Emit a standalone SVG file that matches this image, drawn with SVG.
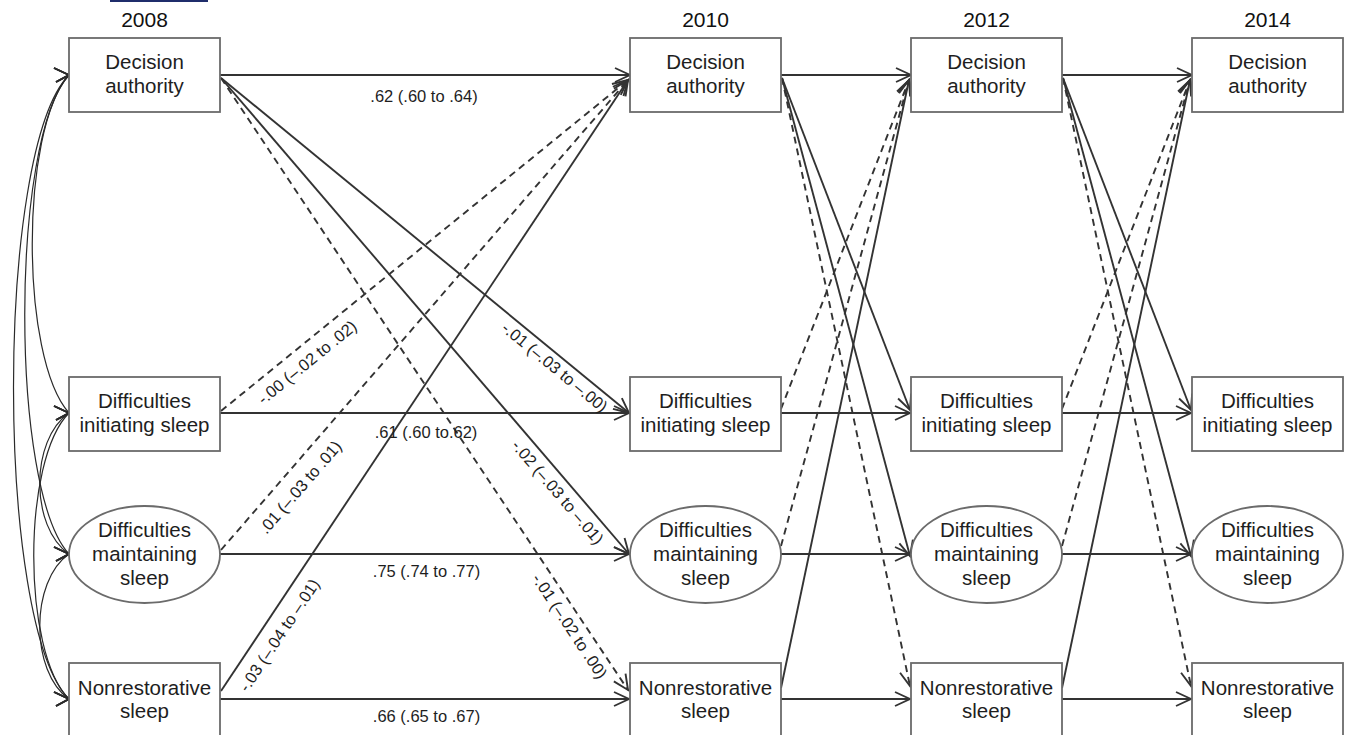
<svg xmlns="http://www.w3.org/2000/svg" width="1346" height="735" viewBox="0 0 1346 735">
<style>
.box{fill:#fff;stroke:#6b6b6b;stroke-width:1.8}
.nt{font-family:"Liberation Sans",Arial,Helvetica,sans-serif;font-size:20.5px;fill:#1e1e1e;text-anchor:middle}
.yr{font-family:"Liberation Sans",Arial,Helvetica,sans-serif;font-size:21px;fill:#111;text-anchor:middle}
.c{fill:none;stroke:#333;stroke-width:1.9;marker-end:url(#ah)}
.d{stroke-dasharray:7 5}
.arc{fill:none;stroke:#2a2a2a;stroke-width:1.2;marker-start:url(#ahR);marker-end:url(#ahR)}
.lb{font-family:"Liberation Sans",Arial,Helvetica,sans-serif;font-size:16.5px;fill:#1e1e1e;text-anchor:middle}
</style>
<defs>
<marker id="ah" markerUnits="userSpaceOnUse" markerWidth="20" markerHeight="20" viewBox="-17 -10 20 20" refX="0" refY="0" orient="auto" overflow="visible"><path d="M-15,-7 L0,0 L-15,7" fill="none" stroke="#333" stroke-width="1.9"/></marker>
<marker id="ahR" markerUnits="userSpaceOnUse" markerWidth="20" markerHeight="20" viewBox="-17 -10 20 20" refX="0" refY="0" orient="0" overflow="visible"><path d="M-15,-7 L0,0 L-13,7" fill="none" stroke="#2a2a2a" stroke-width="1.7"/></marker>
</defs>
<rect x="0" y="0" width="1346" height="735" fill="#fff"/>
<rect x="110" y="0" width="98" height="2" fill="#1f2d6b"/>

<g id="years">
<text class="yr" x="144.5" y="27">2008</text>
<text class="yr" x="705.5" y="27">2010</text>
<text class="yr" x="986.5" y="27">2012</text>
<text class="yr" x="1267.5" y="27">2014</text>
</g>

<g id="connectors">
<path class="arc" d="M69,75 C-5,150 -5,625 69,699"/>
<path class="arc" d="M69,75 C10,140 10,490 69,554"/>
<path class="arc" d="M69,75 C20,130 20,358 69,413"/>
<path class="arc" d="M69,413 C30,440 30,527 69,554"/>
<path class="arc" d="M69,413 C22,460 22,652 69,699"/>
<path class="arc" d="M69,554 C30,581 30,672 69,699"/>

<path class="c" d="M220,75 H630"/>
<path class="c" d="M221,78 L629,413"/>
<path class="c" d="M221,78 L629,554"/>
<path class="c d" d="M221,78 L628,690"/>
<path class="c d" d="M221,411 L628,80"/>
<path class="c" d="M220,413 H629"/>
<path class="c d" d="M221,550 L628,80"/>
<path class="c" d="M220,554 H629"/>
<path class="c" d="M221,691 L628,80"/>
<path class="c" d="M220,699 H629"/>

<path class="c" d="M781,75 H911"/>
<path class="c" d="M782,78 L910,410"/>
<path class="c" d="M782,78 L910,556"/>
<path class="c d" d="M782,78 L910,686"/>
<path class="c d" d="M781,409 L909,80"/>
<path class="c" d="M781,413 H910"/>
<path class="c d" d="M781,546 L909,80"/>
<path class="c" d="M781,554 H910"/>
<path class="c" d="M781,688 L909,80"/>
<path class="c" d="M781,699 H910"/>

<path class="c" d="M1062,75 H1192"/>
<path class="c" d="M1063,78 L1191,410"/>
<path class="c" d="M1063,78 L1191,556"/>
<path class="c d" d="M1063,78 L1191,686"/>
<path class="c d" d="M1062,409 L1190,80"/>
<path class="c" d="M1062,413 H1191"/>
<path class="c d" d="M1062,546 L1190,80"/>
<path class="c" d="M1062,554 H1191"/>
<path class="c" d="M1062,688 L1190,80"/>
<path class="c" d="M1062,699 H1191"/>

<text class="lb" x="424" y="102">.62 (.60 to .64)</text>
<text class="lb" x="426" y="438">.61 (.60 to.62)</text>
<text class="lb" x="426.5" y="577">.75 (.74 to .77)</text>
<text class="lb" x="426.5" y="722">.66 (.65 to .67)</text>
<text class="lb" y="6" transform="translate(555,367) rotate(39.4)">-.01 (–.03 to –.00)</text>
<text class="lb" y="6" transform="translate(558,492) rotate(49.4)">-.02 (–.03 to –.01)</text>
<text class="lb" y="6" transform="translate(570,626) rotate(56.5)">-.01 (–.02 to .00)</text>
<text class="lb" y="6" transform="translate(307,362) rotate(-39.1)">-.00 (–.02 to .02)</text>
<text class="lb" y="6" transform="translate(300,487) rotate(-49.1)">.01 (–.03 to .01)</text>
<text class="lb" y="6" transform="translate(279,635) rotate(-56.3)">-.03 (–.04 to –.01)</text>
</g>

<g id="da2008"><rect class="box" x="69" y="38" width="151" height="74"/><text class="nt" x="144.5" y="69">Decision</text><text class="nt" x="144.5" y="93">authority</text></g>
<g id="dis2008"><rect class="box" x="69" y="377" width="151" height="74"/><text class="nt" x="144.5" y="408">Difficulties</text><text class="nt" x="144.5" y="432">initiating sleep</text></g>
<g id="dms2008"><ellipse class="box" cx="144.5" cy="554.5" rx="75.5" ry="48.5"/><text class="nt" x="144.5" y="537">Difficulties</text><text class="nt" x="144.5" y="561">maintaining</text><text class="nt" x="144.5" y="585">sleep</text></g>
<g id="nrs2008"><rect class="box" x="69" y="663" width="151" height="74"/><text class="nt" x="144.5" y="695">Nonrestorative</text><text class="nt" x="144.5" y="718">sleep</text></g>

<g id="da2010"><rect class="box" x="630" y="38" width="151" height="74"/><text class="nt" x="705.5" y="69">Decision</text><text class="nt" x="705.5" y="93">authority</text></g>
<g id="dis2010"><rect class="box" x="630" y="377" width="151" height="74"/><text class="nt" x="705.5" y="408">Difficulties</text><text class="nt" x="705.5" y="432">initiating sleep</text></g>
<g id="dms2010"><ellipse class="box" cx="705.5" cy="554.5" rx="75.5" ry="48.5"/><text class="nt" x="705.5" y="537">Difficulties</text><text class="nt" x="705.5" y="561">maintaining</text><text class="nt" x="705.5" y="585">sleep</text></g>
<g id="nrs2010"><rect class="box" x="630" y="663" width="151" height="74"/><text class="nt" x="705.5" y="695">Nonrestorative</text><text class="nt" x="705.5" y="718">sleep</text></g>

<g id="da2012"><rect class="box" x="911" y="38" width="151" height="74"/><text class="nt" x="986.5" y="69">Decision</text><text class="nt" x="986.5" y="93">authority</text></g>
<g id="dis2012"><rect class="box" x="911" y="377" width="151" height="74"/><text class="nt" x="986.5" y="408">Difficulties</text><text class="nt" x="986.5" y="432">initiating sleep</text></g>
<g id="dms2012"><ellipse class="box" cx="986.5" cy="554.5" rx="75.5" ry="48.5"/><text class="nt" x="986.5" y="537">Difficulties</text><text class="nt" x="986.5" y="561">maintaining</text><text class="nt" x="986.5" y="585">sleep</text></g>
<g id="nrs2012"><rect class="box" x="911" y="663" width="151" height="74"/><text class="nt" x="986.5" y="695">Nonrestorative</text><text class="nt" x="986.5" y="718">sleep</text></g>

<g id="da2014"><rect class="box" x="1192" y="38" width="151" height="74"/><text class="nt" x="1267.5" y="69">Decision</text><text class="nt" x="1267.5" y="93">authority</text></g>
<g id="dis2014"><rect class="box" x="1192" y="377" width="151" height="74"/><text class="nt" x="1267.5" y="408">Difficulties</text><text class="nt" x="1267.5" y="432">initiating sleep</text></g>
<g id="dms2014"><ellipse class="box" cx="1267.5" cy="554.5" rx="75.5" ry="48.5"/><text class="nt" x="1267.5" y="537">Difficulties</text><text class="nt" x="1267.5" y="561">maintaining</text><text class="nt" x="1267.5" y="585">sleep</text></g>
<g id="nrs2014"><rect class="box" x="1192" y="663" width="151" height="74"/><text class="nt" x="1267.5" y="695">Nonrestorative</text><text class="nt" x="1267.5" y="718">sleep</text></g>
</svg>
